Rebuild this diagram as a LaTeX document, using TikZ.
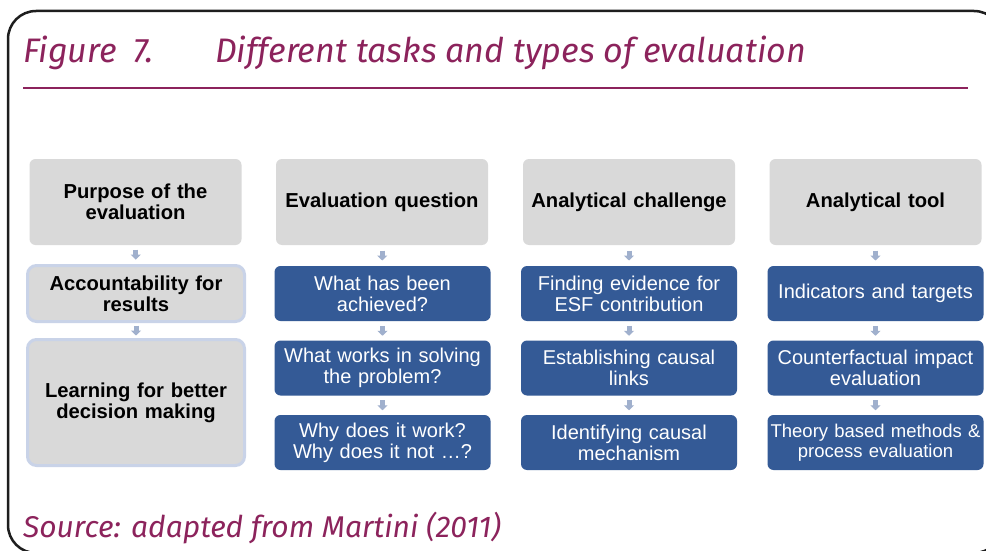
\documentclass[tikz,border=0pt]{standalone}
\usepackage{fontspec}
\newfontfamily\arialf{Liberation Sans}
\newfontfamily\ecf{Fira Sans}
\usetikzlibrary{arrows.meta,calc}
\definecolor{ecpurple}{RGB}{140,35,92}
\definecolor{hdgray}{RGB}{217,217,217}
\definecolor{boxblue}{RGB}{52,90,150}
\definecolor{arrowblue}{RGB}{160,176,205}
\definecolor{paleblue}{RGB}{201,211,232}
\definecolor{framegray}{RGB}{30,30,30}
\tikzset{
  hdr/.style={fill=hdgray, rounded corners=6pt, minimum width=212pt, minimum height=86pt,
    align=center, text width=200pt, inner sep=0pt, font=\arialf\bfseries\fontsize{20.2}{21}\selectfont},
  pbox/.style={fill=hdgray, draw=paleblue, line width=3pt, rounded corners=9pt, minimum width=217pt,
    align=center, text width=205pt, inner sep=0pt, font=\arialf\bfseries\fontsize{20.2}{21}\selectfont},
  bbox/.style={fill=boxblue, rounded corners=6pt, minimum width=216pt, minimum height=55pt,
    align=center, text width=212pt, inner sep=0pt, text=white, font=\arialf\fontsize{20}{21}\selectfont},
  arr/.style={draw=arrowblue, line width=5pt, -{Triangle[width=10pt,length=5pt]}},
  ttl/.style={anchor=base west, inner sep=0pt, text=ecpurple, font=\ecf\itshape\fontsize{34}{40}\selectfont},
  src/.style={anchor=base west, inner sep=0pt, text=ecpurple, font=\ecf\itshape\fontsize{30}{34}\selectfont}
}
\newcommand{\downarr}[2]{\draw[arr] ($(#1.south)!0.5!(#2.north)+(0,-5)$) -- ($(#1.south)!0.5!(#2.north)+(0,5)$);}
\begin{document}
\begin{tikzpicture}[x=1pt,y=-1pt]
\useasboundingbox (0,0) rectangle (986,551);
\clip (0,0) rectangle (986,551);
\fill[white] (0,0) rectangle (986,551);
% frame
\draw[framegray, line width=2.5pt, rounded corners=28pt] (8,11) rectangle (1002,553);
% title
\node[ttl] (fig) at (23,63) {Figure\hspace{17pt}7.};
\node[ttl] (title) at (215,63) {Different tasks and types of evaluation};
\draw[ecpurple, line width=2.5pt] (23,88) -- (968,88);
% headers
\node[hdr] (h1) at (135.5,202) {Purpose of the\\evaluation};
\node[hdr] (h2) at (382,202) {Evaluation question};
\node[hdr] (h3) at (629,202) {Analytical challenge};
\node[hdr] (h4) at (875.5,202) {Analytical tool};
% column 1
\node[pbox, minimum height=56pt] (a1) at (136,293.5) {Accountability for\\results};
\node[pbox, minimum height=126pt] (a2) at (136,402.5) {Learning for better\\decision making};
% column 2
\node[bbox] (b1) at (382.5,293.5) {What has been\\achieved?};
\node[bbox] (b2) at (382.5,368) {What works in solving\\the problem?};
\node[bbox] (b3) at (382.5,442.5) {Why does it work?\\Why does it not \dots?};
% column 3
\node[bbox] (c1) at (629,293.5) {Finding evidence for\\ESF contribution};
\node[bbox] (c2) at (629,368) {Establishing causal\\links};
\node[bbox] (c3) at (629,442.5) {Identifying causal\\mechanism};
% column 4
\node[bbox] (d1) at (875.5,293.5) {Indicators and targets};
\node[bbox] (d2) at (875.5,368) {Counterfactual impact\\evaluation};
\node[bbox, font=\arialf\fontsize{18.5}{20}\selectfont] (d3) at (875.5,442.5) {Theory based methods \&\\process evaluation};
% arrows
\downarr{h1}{a1}\downarr{a1}{a2}
\downarr{h2}{b1}\downarr{b1}{b2}\downarr{b2}{b3}
\downarr{h3}{c1}\downarr{c1}{c2}\downarr{c2}{c3}
\downarr{h4}{d1}\downarr{d1}{d2}\downarr{d2}{d3}
% source
\node[src] (source) at (23,537) {Source: adapted from Martini (2011)};
\end{tikzpicture}
\end{document}
